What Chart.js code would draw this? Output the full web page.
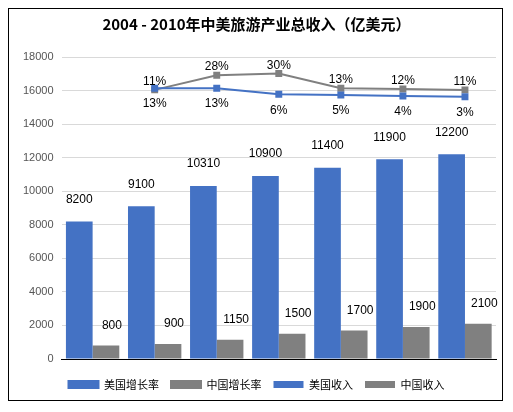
<!DOCTYPE html>
<html><head><meta charset="utf-8">
<script src="https://cdn.jsdelivr.net/npm/chart.js@4"></script>
<style>
body{margin:0;background:#fff;}
#box{position:absolute;left:8px;top:8px;width:495px;height:393px;border:1px solid #000;box-sizing:border-box;}
</style></head><body>
<div id="box"><canvas id="c"></canvas></div>
<script>
const years = ['2004','2005','2006','2007','2008','2009','2010'];
const usIncome = [8200, 9100, 10310, 10900, 11400, 11900, 12200];
const cnIncome = [800, 900, 1150, 1500, 1700, 1900, 2100];
const usGrowth = [null, 13, 13, 6, 5, 4, 3];
const cnGrowth = [null, 11, 28, 30, 13, 12, 11];
const yTicks = [0, 2000, 4000, 6000, 8000, 10000, 12000, 14000, 16000, 18000];

// 数据标签
const labelPlugin = {
  id: 'labels',
  afterDatasetsDraw(chart) {
    const ctx = chart.ctx;
    ctx.save();
    ctx.font = '12px "Liberation Sans", Arial';
    ctx.fillStyle = '#000';
    ctx.textAlign = 'center';
    chart.data.datasets.forEach((ds, i) => {
      chart.getDatasetMeta(i).data.forEach((el, j) => {
        const v = ds.data[j];
        if (v == null) return;
        let x = el.x, y;
        if (i === 0) y = el.y - 22;
        else if (i === 1) { x = el.x + 6; y = el.y - 20; }
        else if (i === 2) y = el.y + 16;
        else y = el.y - 8;
        ctx.fillText(i < 2 ? v : v + '%', x, y);
      });
    });
    ctx.restore();
  }
};

new Chart(document.getElementById('c'), {
  type: 'bar',
  data: {
    labels: years,
    datasets: [
      { label: '美国收入', data: usIncome, backgroundColor: '#4472C4', order: 2 },
      { label: '中国收入', data: cnIncome, backgroundColor: '#808080', order: 2 },
      { type: 'line', label: '美国增长率', data: usGrowth, yAxisID: 'y1', borderColor: '#4472C4', backgroundColor: '#4472C4',
        pointStyle: 'rect', pointRadius: 3.5, borderWidth: 2, order: 1 },
      { type: 'line', label: '中国增长率', data: cnGrowth, yAxisID: 'y1', borderColor: '#808080', backgroundColor: '#808080',
        pointStyle: 'rect', pointRadius: 3.5, borderWidth: 2, order: 1 }
    ]
  },
  options: {
    responsive: true,
    maintainAspectRatio: false,
    animation: false,
    layout: { padding: { left: 6, right: 4, top: 0, bottom: 0 } },
    datasets: { bar: { categoryPercentage: 0.86, barPercentage: 1 } },
    plugins: {
      title: { display: true, text: '2004 - 2010年中美旅游产业总收入（亿美元）', color: '#000',
        font: { size: 15, weight: 'bold', family: '"Noto Sans CJK SC"' }, padding: { top: 6, bottom: 24 } },
      legend: { position: 'bottom', sort: (a, b) => a.datasetIndex - b.datasetIndex,
        labels: { color: '#000', font: { size: 11, family: '"Noto Sans CJK SC"' }, boxWidth: 30, boxHeight: 7, padding: 12 } },
      tooltip: { enabled: false }
    },
    scales: {
      x: { ticks: { display: false }, grid: { display: false }, border: { color: '#000' } },
      y: { min: 0, max: 18000, afterBuildTicks: s => { s.ticks = yTicks.map(v => ({ value: v })); },
        ticks: { color: '#555', font: { size: 11 }, padding: 8, callback: v => String(v) },
        grid: { color: '#d9d9d9', drawTicks: false }, border: { display: false } },
      y1: { display: false, min: -300, max: 49 }
    }
  },
  plugins: [labelPlugin]
});
</script></body></html>
